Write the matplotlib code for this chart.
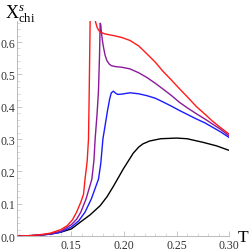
import numpy as np
import matplotlib.pyplot as plt
from matplotlib.ticker import MultipleLocator

plt.rcParams['font.family'] = 'Liberation Serif'
plt.rcParams['mathtext.fontset'] = 'custom'
plt.rcParams['mathtext.rm'] = 'Liberation Serif'
plt.rcParams['mathtext.it'] = 'Liberation Serif:italic'

# data
T_black = [0.098, 0.11, 0.12, 0.13, 0.14, 0.15, 0.1585, 0.168, 0.1774, 0.184, 0.19, 0.1993, 0.2088,
           0.214, 0.218, 0.2245, 0.235, 0.25, 0.26, 0.275, 0.288, 0.30]
chi_black = [0.0, 0.001, 0.003, 0.006, 0.012, 0.022, 0.043, 0.066, 0.094, 0.122, 0.154, 0.207, 0.256,
             0.275, 0.285, 0.294, 0.301, 0.303, 0.301, 0.290, 0.279, 0.265]

T_blue = [0.098, 0.11, 0.12, 0.13, 0.14, 0.15, 0.157, 0.163, 0.169, 0.1758, 0.178, 0.180, 0.1825, 0.1845,
          0.1865, 0.188, 0.190, 0.192, 0.194, 0.198, 0.2057, 0.214, 0.222, 0.23, 0.237, 0.245, 0.253,
          0.261, 0.269, 0.277, 0.284, 0.292, 0.30]
chi_blue = [0.0, 0.001, 0.003, 0.006, 0.012, 0.028, 0.047, 0.074, 0.115, 0.176, 0.225, 0.30, 0.35, 0.39,
            0.425, 0.443, 0.448, 0.442, 0.438, 0.439, 0.443, 0.440, 0.434, 0.426, 0.415, 0.402, 0.388,
            0.375, 0.362, 0.35, 0.337, 0.322, 0.305]

T_purple = [0.098, 0.11, 0.12, 0.13, 0.14, 0.15, 0.155, 0.159, 0.164, 0.1695, 0.1715, 0.1726, 0.1745,
            0.1758, 0.1768, 0.1774, 0.1779, 0.1786, 0.1795, 0.1805, 0.182, 0.1837, 0.186, 0.188, 0.192,
            0.198, 0.2057, 0.214, 0.222, 0.23, 0.237, 0.245, 0.253, 0.261, 0.269, 0.277, 0.284, 0.292, 0.30]
chi_purple = [0.0, 0.001, 0.003, 0.007, 0.015, 0.035, 0.052, 0.074, 0.115, 0.176, 0.235, 0.30, 0.38,
              0.45, 0.56, 0.658, 0.655, 0.63, 0.605, 0.585, 0.56, 0.543, 0.532, 0.527, 0.524,
              0.522, 0.517, 0.505, 0.49, 0.472, 0.455, 0.435, 0.413, 0.395, 0.378, 0.362, 0.347, 0.33, 0.31]

T_red_low = [0.098, 0.11, 0.12, 0.13, 0.14, 0.146, 0.151, 0.155, 0.159, 0.1616, 0.163, 0.165, 0.1663,
             0.167, 0.168]
chi_red_low = [0.0, 0.001, 0.004, 0.009, 0.02, 0.032, 0.05, 0.074, 0.105, 0.13, 0.176, 0.23, 0.30,
               0.45, 0.70]

T_red_high = [0.1715, 0.173, 0.1745, 0.176, 0.178, 0.182, 0.19, 0.198, 0.2057, 0.214, 0.222, 0.23, 0.237,
              0.245, 0.253, 0.261, 0.269, 0.277, 0.284, 0.292, 0.30]
chi_red_high = [0.70, 0.662, 0.645, 0.636, 0.63, 0.625, 0.62, 0.614, 0.605, 0.588, 0.563, 0.537, 0.51,
                0.483, 0.455, 0.428, 0.40, 0.377, 0.356, 0.335, 0.315]

x_ticks = [0.15, 0.20, 0.25, 0.30]
x_labels = ['0.15', '0.20', '0.25', '0.30']
y_ticks = [0.0, 0.1, 0.2, 0.3, 0.4, 0.5, 0.6]
y_labels = ['0.0', '0.1', '0.2', '0.3', '0.4', '0.5', '0.6']

fig = plt.figure(figsize=(2.49, 2.53), dpi=100)
ax = fig.add_axes([0.067, 0.063, 0.853, 0.85])

lw = 1.0
ax.plot(T_black, chi_black, color='black', lw=lw)
ax.plot(T_blue, chi_blue, color='#1a1aff', lw=lw)
ax.plot(T_purple, chi_purple, color='#8a1a9a', lw=lw)
ax.plot(T_red_low, chi_red_low, color='#ff1a1a', lw=lw)
ax.plot(T_red_high, chi_red_high, color='#ff1a1a', lw=lw)

ax.set_xlim(0.098, 0.30)
ax.set_ylim(0.0, 0.665)

for s in ['top', 'right']:
    ax.spines[s].set_visible(False)
for s in ['left', 'bottom']:
    ax.spines[s].set_color('#b0b0b0')
    ax.spines[s].set_linewidth(0.6)

ax.xaxis.set_minor_locator(MultipleLocator(0.01))
ax.yaxis.set_minor_locator(MultipleLocator(0.02))
ax.set_xticks(x_ticks)
ax.set_xticklabels(x_labels)
ax.set_yticks(y_ticks)
ax.set_yticklabels(y_labels)
ax.tick_params(which='major', direction='in', length=3.5, width=0.5, color='#b0b0b0',
               labelsize=8.5, pad=2, labelcolor='#333333')
ax.tick_params(axis='y', which='major', pad=1.2)
ax.tick_params(which='minor', direction='in', length=2, width=0.4, color='#c0c0c0')

fig.text(0.955, 0.042, 'T', fontsize=12.5)
fig.text(0.02, 0.925, r'$\mathrm{X}^{s}_{\mathrm{chi}}$', fontsize=13)

fig.savefig('out.png', dpi=100)
